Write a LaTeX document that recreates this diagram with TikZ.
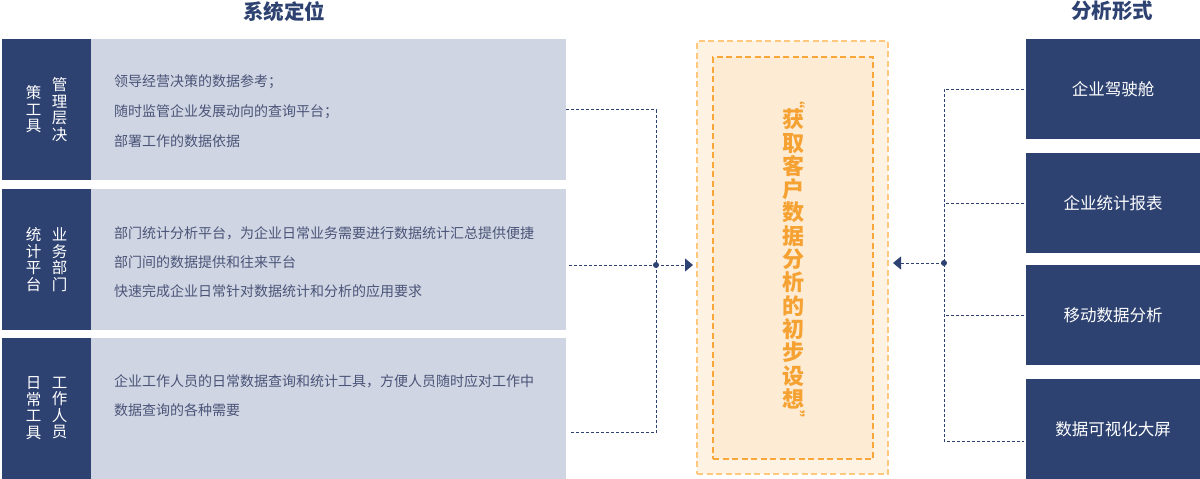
\documentclass[tikz,border=0pt]{standalone}
\usepackage{fontspec}
\setmainfont{Noto Sans CJK SC}
\usetikzlibrary{arrows.meta}
\definecolor{navy}{HTML}{2E4272}
\definecolor{pale}{HTML}{CFD5E2}
\definecolor{txt}{HTML}{4A5478}
\definecolor{ofill}{HTML}{FEF3E3}
\definecolor{oline}{HTML}{FFC87C}
\definecolor{ifill}{HTML}{FDEBD3}
\definecolor{iline}{HTML}{F9A63A}
\definecolor{otext}{HTML}{F5A233}
\tikzset{
  blk/.style={inner sep=0pt, outer sep=0pt, anchor=north west},
  darkbox/.style={blk, fill=navy, minimum width=89pt, minimum height=141pt},
  palebox/.style={blk, fill=pale, minimum width=475pt, minimum height=141pt},
  lab/.style={text=white, align=center, inner sep=0pt, font=\fontsize{15.5}{16.5}\selectfont},
  para/.style={text=txt, anchor=west, inner sep=0pt, font=\fontsize{14}{16}\selectfont},
  rbox/.style={blk, fill=navy, text=white, minimum width=174pt, minimum height=100pt, font=\fontsize{16.5}{18}\selectfont},
  obox/.style={blk, fill=ofill, draw=oline, line width=2pt, dash pattern=on 6pt off 3.5pt},
  ibox/.style={blk, fill=ifill, draw=iline, line width=2pt, dash pattern=on 6pt off 3.5pt},
  ctext/.style={text=otext, align=center, inner sep=0pt, font=\fontsize{22}{23.3}\selectfont\bfseries},
  cquote/.style={text=otext, inner sep=0pt, font=\fontsize{16}{16}\selectfont\bfseries},
  conn/.style={draw=navy, line width=0.9pt, dash pattern=on 3pt off 2pt},
  tip/.style={-{Triangle[length=8pt,width=13pt]}},
  title/.style={text=navy, inner sep=0pt, font=\fontsize{20.5}{21}\selectfont\bfseries},
}
\begin{document}
\begin{tikzpicture}[x=1pt,y=-1pt]
\useasboundingbox (0,0) rectangle (1200,479);

% titles
\node[title] (h1) at (284,12) {系统定位};
\node[title] (h2) at (1112,11) {分析形式};

% left blocks
\node[darkbox] (D1) at (2,39) {};
\node[palebox] (L1) at (91,39) {};
\node[darkbox] (D2) at (2,189) {};
\node[palebox] (L2) at (91,189) {};
\node[darkbox] (D3) at (2,338) {};
\node[palebox] (L3) at (91,338) {};

\node[lab] (D1a) at (33.5,109.5) {策\\工\\具};
\node[lab] (D1b) at (59.5,109.5) {管\\理\\层\\决};
\node[lab] (D2a) at (33.5,259.5) {统\\计\\平\\台};
\node[lab] (D2b) at (59.5,259.5) {业\\务\\部\\门};
\node[lab] (D3a) at (33.5,408) {日\\常\\工\\具};
\node[lab] (D3b) at (59.5,408) {工\\作\\人\\员};

\node[para] (t11) at (114,82) {领导经营决策的数据参考；};
\node[para] (t12) at (114,112) {随时监管企业发展动向的查询平台；};
\node[para] (t13) at (114,141) {部署工作的数据依据};
\node[para] (t21) at (114,233) {部门统计分析平台，为企业日常业务需要进行数据统计汇总提供便捷};
\node[para] (t22) at (114,262) {部门间的数据提供和往来平台};
\node[para] (t23) at (114,291) {快速完成企业日常针对数据统计和分析的应用要求};
\node[para] (t31) at (114,381) {企业工作人员的日常数据查询和统计工具，方便人员随时应对工作中};
\node[para] (t32) at (114,410) {数据查询的各种需要};

% center block
\node[obox, minimum width=191pt, minimum height=433pt] (C) at (697,41) {};
\node[ibox, minimum width=160pt, minimum height=402pt] (Ci) at (713,57) {};
\node[ctext] (T) at (793,259) {获\\取\\客\\户\\数\\据\\分\\析\\的\\初\\步\\设\\想};
\node[cquote, rotate=-90] (q1) at (798,100) {“};
\node[cquote, rotate=-90] (q2) at (798,418) {”};

% right blocks
\node[rbox] (R1) at (1026,39) {企业驾驶舱};
\node[rbox] (R2) at (1026,153) {企业统计报表};
\node[rbox] (R3) at (1026,265) {移动数据分析};
\node[rbox] (R4) at (1026,379) {数据可视化大屏};

% left connectors
\coordinate (J) at (656,265);
\coordinate (Lb) at (656,432);
\coordinate (L3o) at (569,432);
\coordinate (L2o) at (569,265);
\draw[conn] (L1.east) -| (Lb) -- (L3o);
\draw[conn] (L2o) -- (J);
\draw[conn, tip, shorten >=4pt] (J) -- (J -| C.west);
\fill[navy] (J) circle (3);

% right connectors
\coordinate (K) at (944,263);
\coordinate (Kb) at (944,441);
\coordinate (R4i) at (1024,441);
\draw[conn, shorten <=2pt] (R1.west) -| (Kb) -- (R4i);
\draw[conn, shorten <=2pt] (R2.west) -- (R2.west -| K);
\draw[conn, shorten <=2pt] (R3.west) -- (R3.west -| K);
\draw[conn, tip, shorten >=5pt] (K) -- (K -| C.east);
\fill[navy] (K) circle (3);
\end{tikzpicture}
\end{document}
